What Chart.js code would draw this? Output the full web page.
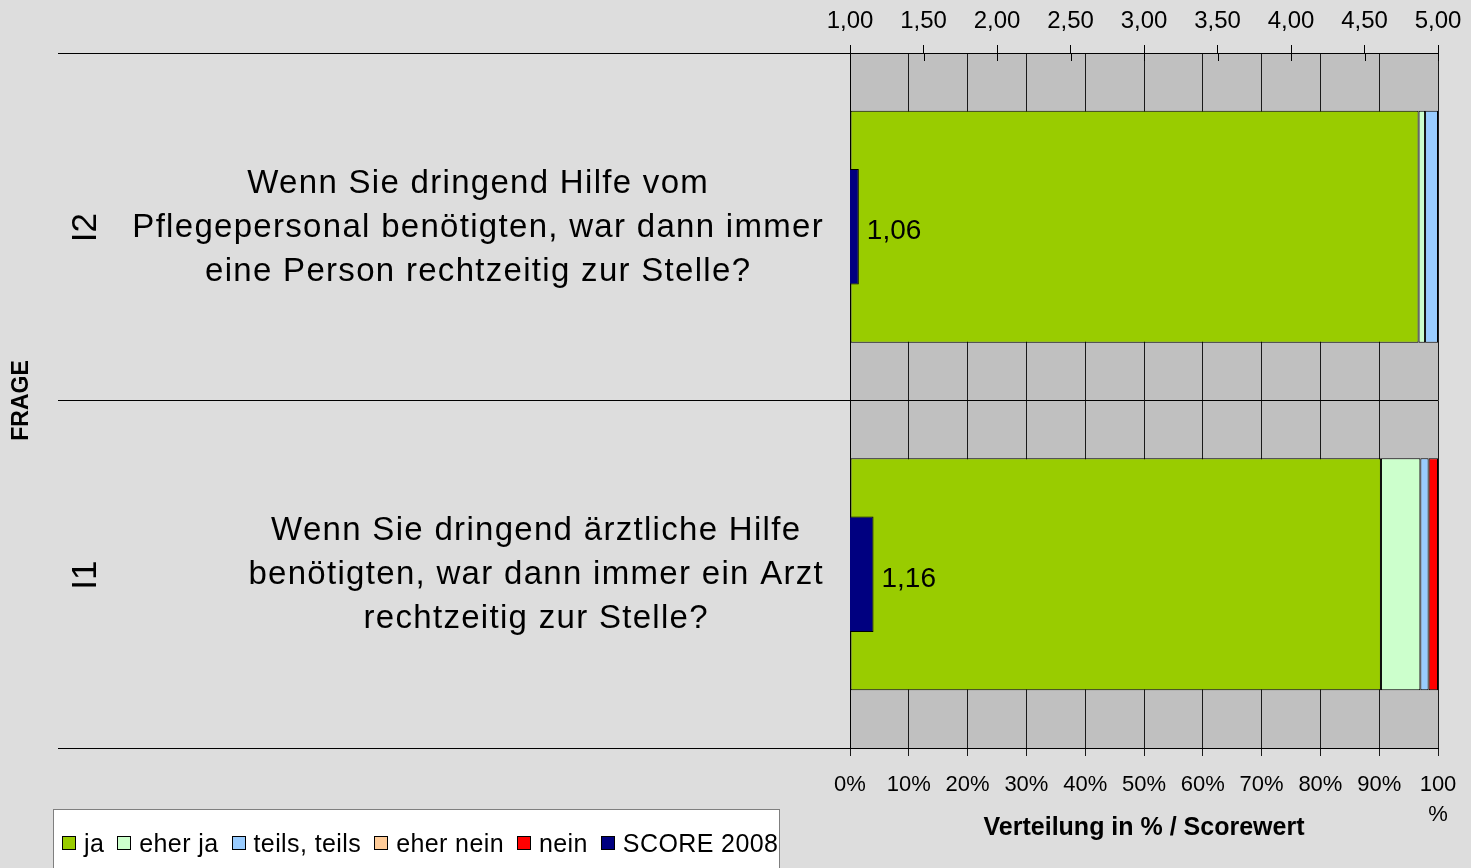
<!DOCTYPE html>
<html>
<head>
<meta charset="utf-8">
<script src="https://cdn.jsdelivr.net/npm/chart.js@4.4.1/dist/chart.umd.min.js"></script>
<style>
  html, body { margin: 0; padding: 0; background: #DDDDDD; }
  #wrap { position: relative; width: 1471px; height: 868px; overflow: hidden; background: #DDDDDD; }
  #legend { position: absolute; left: 53px; top: 809px; width: 727px; height: 80px; box-sizing: border-box;
    background: #FFFFFF; border: 1px solid #7f7f7f; font-family: "Liberation Sans", Arial, sans-serif;
    font-size: 25px; letter-spacing: 0.4px; color: #000; }
  #legend .row { position: absolute; left: 8px; top: 20px; height: 26px; display: flex; align-items: center; white-space: nowrap; }
  #legend .item { display: flex; align-items: center; margin-right: 13px; }
  #legend .box { width: 12px; height: 12px; border: 1px solid #000; margin-right: 8px; }
</style>
</head>
<body>
<div id="wrap">
  <canvas id="c" width="1471" height="868"></canvas>
  <div id="legend"><div class="row" id="legendRow"></div></div>
</div>
<script>
// ---- data ----
const codes = ['I2', 'I1'];
const questions = [
  ['Wenn Sie dringend Hilfe vom', 'Pflegepersonal benötigten, war dann immer', 'eine Person rechtzeitig zur Stelle?'],
  ['Wenn Sie dringend ärztliche Hilfe', 'benötigten, war dann immer ein Arzt', 'rechtzeitig zur Stelle?']
];
const ja = [96.7, 90.3];
const eherJa = [1.1, 6.7];
const teils = [2.2, 1.4];
const eherNein = [0, 0];
const nein = [0, 1.6];
const score2008 = [1.06, 1.16];
const seriesNames = ['ja', 'eher ja', 'teils, teils', 'eher nein', 'nein', 'SCORE 2008'];
const seriesColors = ['#99CC00', '#CCFFCC', '#99CCFF', '#FFCC99', '#FF0000', '#000080'];
const axisTitleX = 'Verteilung in % / Scorewert';
const axisTitleY = 'FRAGE';

const FONT = '"Liberation Sans", Arial, sans-serif';
const fmtComma = v => v.toFixed(2).replace('.', ',');

const distSeries = [ja, eherJa, teils, eherNein, nein];
const datasets = distSeries.map((arr, i) => ({
  label: seriesNames[i],
  data: arr,
  backgroundColor: seriesColors[i],
  borderColor: '#000000',
  borderWidth: 1,
  borderSkipped: false,
  xAxisID: 'x',
  yAxisID: 'y',
  grouped: false,
  barPercentage: 0.667,
  categoryPercentage: 1.0,
  order: 1
}));
datasets.push({
  label: seriesNames[5],
  data: score2008.map(v => [1, v]),
  backgroundColor: seriesColors[5],
  borderColor: '#000000',
  borderWidth: 1,
  borderSkipped: 'start',
  xAxisID: 'x2',
  yAxisID: 'y',
  grouped: false,
  barPercentage: 0.333,
  categoryPercentage: 1.0,
  order: 0
});

// plot background
const bgPlugin = {
  id: 'plotBg',
  beforeDraw(chart) {
    const {ctx, chartArea: a} = chart;
    ctx.save();
    ctx.fillStyle = '#DDDDDD';
    ctx.fillRect(0, 0, chart.width, chart.height);
    ctx.fillStyle = '#C0C0C0';
    ctx.fillRect(a.left, a.top, a.right - a.left, a.bottom - a.top);
    ctx.restore();
  }
};

// texts: questions, codes, score labels, inner ticks of top axis
const textPlugin = {
  id: 'texts',
  afterDraw(chart) {
    const {ctx} = chart;
    const y = chart.scales.y;
    ctx.save();
    // question text
    ctx.fillStyle = '#000';
    ctx.font = '33px ' + FONT;
    ctx.letterSpacing = '1.3px';
    ctx.textBaseline = 'middle';
    ctx.textAlign = 'center';
    const lineH = 44;
    questions.forEach((lines, i) => {
      const cy = y.getPixelForValue(i) + 1;
      const maxW = Math.max(...lines.map(l => ctx.measureText(l).width));
      const cx = 824 - maxW / 2;
      lines.forEach((l, k) => {
        ctx.fillText(l, cx, cy + (k - (lines.length - 1) / 2) * lineH);
      });
    });
    // codes rotated
    ctx.letterSpacing = '0px';
    ctx.font = '35px ' + FONT;
    codes.forEach((c, i) => {
      const cy = y.getPixelForValue(i) + 1;
      ctx.save();
      ctx.translate(86, cy);
      ctx.rotate(-Math.PI / 2);
      ctx.fillText(c, 0, 0);
      ctx.restore();
    });
    // score data labels
    const meta = chart.getDatasetMeta(datasets.length - 1);
    ctx.font = '28px ' + FONT;
    ctx.textAlign = 'left';
    meta.data.forEach((el, i) => {
      ctx.fillText(fmtComma(score2008[i]), el.x + 8, el.y + 5);
    });
    // inner tick marks of top axis
    const x2 = chart.scales.x2;
    ctx.strokeStyle = '#000';
    ctx.lineWidth = 1;
    x2.ticks.forEach(t => {
      const px = Math.round(x2.getPixelForValue(t.value)) + 0.5;
      ctx.beginPath();
      ctx.moveTo(px, x2.bottom);
      ctx.lineTo(px, x2.bottom + 8);
      ctx.stroke();
    });
    ctx.restore();
  }
};

const noSidePad = s => { s.paddingLeft = 0; s.paddingRight = 0; };

const chart = new Chart(document.getElementById('c'), {
  type: 'bar',
  data: { labels: codes, datasets },
  plugins: [bgPlugin, textPlugin],
  options: {
    indexAxis: 'y',
    responsive: false,
    animation: false,
    layout: { padding: { left: 0, top: 0, right: 33, bottom: 0 } },
    plugins: { legend: { display: false }, tooltip: { enabled: false } },
    scales: {
      x: {
        position: 'bottom',
        stacked: true,
        min: 0, max: 100,
        ticks: {
          stepSize: 10, autoSkip: false, maxRotation: 0, color: '#000', padding: 14,
          font: { family: FONT, size: 22, lineHeight: 1.36 },
          callback: v => v === 100 ? ['100', '%'] : v + '%'
        },
        grid: { color: '#1a1a1a', lineWidth: 1, tickLength: 8 },
        border: { color: '#000', width: 1 },
        title: { display: true, text: axisTitleX, color: '#000', padding: { top: 0, bottom: 25 },
          font: { family: FONT, size: 25, weight: 'bold', lineHeight: 1.2 } },
        afterFit: s => { s.height = 120; noSidePad(s); }
      },
      x2: {
        position: 'top',
        min: 1, max: 5,
        ticks: {
          stepSize: 0.5, autoSkip: false, maxRotation: 0, color: '#000', padding: 9,
          font: { family: FONT, size: 24, lineHeight: 1.2 },
          callback: v => fmtComma(v)
        },
        grid: { drawOnChartArea: false, color: '#000', tickLength: 8 },
        border: { color: '#000', width: 1 },
        afterFit: s => { s.height = 53; noSidePad(s); }
      },
      y: {
        position: 'left',
        offset: true,
        ticks: { display: false },
        grid: { offset: true, color: '#000', lineWidth: 1, tickLength: 792 },
        border: { color: '#000', width: 1 },
        title: { display: true, text: axisTitleY, color: '#000', padding: { top: 8, bottom: 0 },
          font: { family: FONT, size: 23, weight: 'bold', lineHeight: 1.2 } },
        afterFit: s => { s.width = 850; s.paddingTop = 0; s.paddingBottom = 0; }
      }
    }
  }
});

// HTML legend from the series arrays
const row = document.getElementById('legendRow');
seriesNames.forEach((n, i) => {
  const it = document.createElement('div');
  it.className = 'item';
  const b = document.createElement('div');
  b.className = 'box';
  b.style.background = seriesColors[i];
  const t = document.createElement('span');
  t.textContent = n;
  it.appendChild(b); it.appendChild(t);
  row.appendChild(it);
});
</script>
</body>
</html>
